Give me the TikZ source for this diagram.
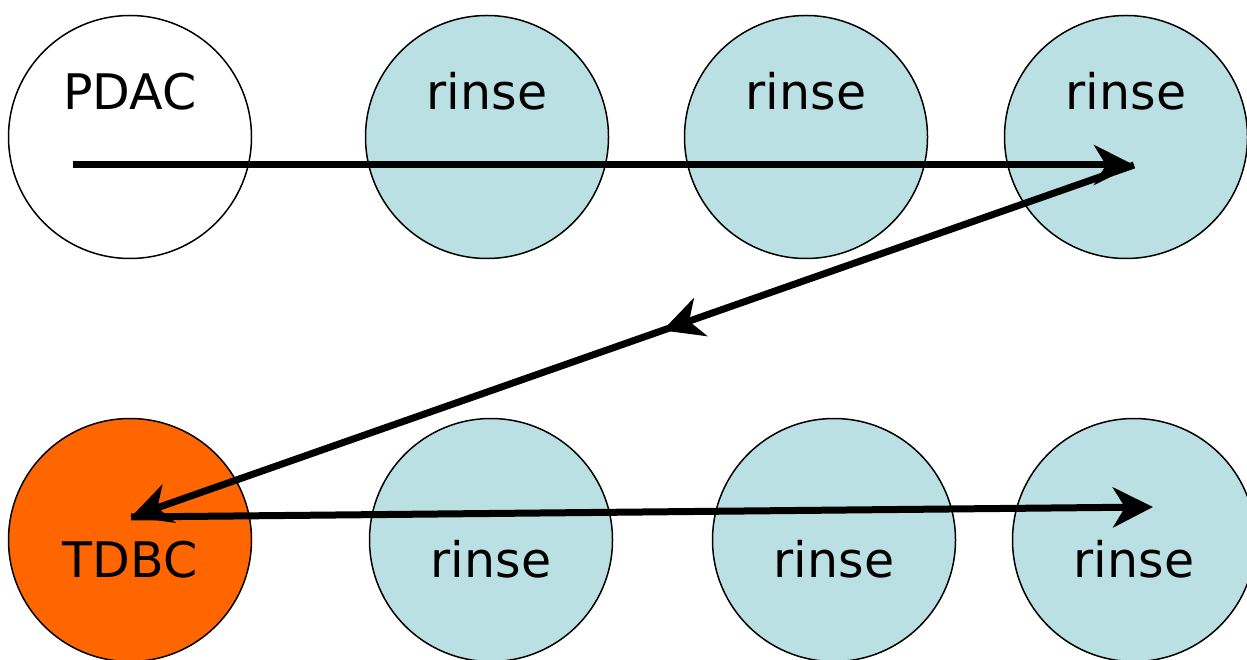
\documentclass[tikz,border=0pt]{standalone}
\usepackage{fontspec}
\setmainfont{DejaVu Sans}
\usetikzlibrary{arrows.meta,decorations.markings}
\definecolor{rinsec}{HTML}{BBE0E3}
\definecolor{tdbcc}{HTML}{FF6600}
\begin{document}
\begin{tikzpicture}[x=1pt,y=-1pt,
  disk/.style={circle,draw=black,line width=1.5pt,minimum size=243pt,inner sep=0pt},
  lbl/.style={font=\fontsize{49}{49}\selectfont,anchor=base},
  flow/.style={line width=7pt,-{Stealth[length=40pt,width=40pt,inset=12pt]}}]
\useasboundingbox (0,0) rectangle (1247,660);
\node[disk,fill=white] (pdac) at (130,137) {};
\node[disk,fill=rinsec] (r1) at (487,137) {};
\node[disk,fill=rinsec] (r2) at (806,137) {};
\node[disk,fill=rinsec] (r3) at (1126,137) {};
\node[disk,fill=tdbcc] (tdbc) at (130,540) {};
\node[disk,fill=rinsec] (r4) at (491,540) {};
\node[disk,fill=rinsec] (r5) at (834,540) {};
\node[disk,fill=rinsec] (r6) at (1134,540) {};
\node[lbl] (tpdac) at (130,110) {PDAC};
\node[lbl] (t1) at (487,110) {rinse};
\node[lbl] (t2) at (806,110) {rinse};
\node[lbl] (t3) at (1126,110) {rinse};
\node[lbl] (ttdbc) at (130,577) {TDBC};
\node[lbl] (t4) at (491,577) {rinse};
\node[lbl] (t5) at (834,577) {rinse};
\node[lbl] (t6) at (1134,577) {rinse};
\coordinate (s) at (73,165);
\coordinate (e1) at (1134,165);
\coordinate (e2) at (131,517);
\coordinate (e3) at (1153,507);
\draw[flow] (s) -- (e1);
\draw[flow,postaction={decorate},decoration={markings,mark=at position 0.47 with {\arrow{Stealth[length=40pt,width=40pt,inset=12pt]}}}] (e1) -- (e2);
\draw[flow] (e2) -- (e3);
\end{tikzpicture}
\end{document}
